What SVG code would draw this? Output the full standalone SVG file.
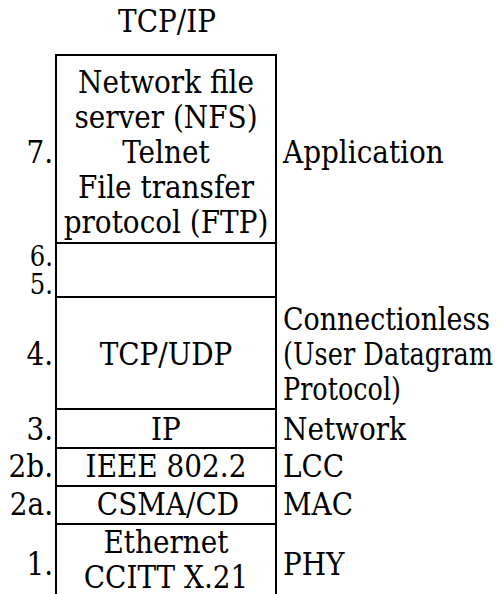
<svg xmlns="http://www.w3.org/2000/svg" width="503" height="594" viewBox="0 0 503 594">
<style>
text{font-family:"DejaVu Serif Condensed","DejaVu Serif","Liberation Serif",serif;font-stretch:condensed;font-size:31px;fill:#000}
.c{text-anchor:middle}
.n{text-anchor:end}
.s{font-size:27px}
line{stroke:#000;stroke-width:2}
</style>
<rect width="503" height="594" fill="#fff"/>
<text class="c" x="167" y="32">TCP/IP</text>
<g id="connectors">
<line x1="56" y1="55" x2="56" y2="594"/>
<line x1="276" y1="55" x2="276" y2="594"/>
<line x1="55" y1="55" x2="277" y2="55"/>
<line x1="56" y1="243" x2="276" y2="243"/>
<line x1="56" y1="297" x2="276" y2="297"/>
<line x1="56" y1="409" x2="276" y2="409"/>
<line x1="56" y1="448" x2="276" y2="448"/>
<line x1="56" y1="486" x2="276" y2="486"/>
<line x1="56" y1="524" x2="276" y2="524"/>
</g>
<g id="layer7">
<text class="n" x="53" y="163">7.</text>
<text class="c" x="166" y="93">Network file</text>
<text class="c" x="166" y="128">server (NFS)</text>
<text class="c" x="166" y="163">Telnet</text>
<text class="c" x="166" y="198">File transfer</text>
<text class="c" x="166" y="233">protocol (FTP)</text>
<text x="283" y="163">Application</text>
</g>
<g id="layer65">
<text class="n s" x="53" y="266">6.</text>
<text class="n s" x="53" y="294">5.</text>
</g>
<g id="layer4">
<text class="n" x="53" y="365">4.</text>
<text class="c" x="166" y="365">TCP/UDP</text>
<text x="283" y="330" textLength="207" lengthAdjust="spacingAndGlyphs">Connectionless</text>
<text x="283" y="365" textLength="210" lengthAdjust="spacingAndGlyphs">(User Datagram</text>
<text x="283" y="400" textLength="118" lengthAdjust="spacingAndGlyphs">Protocol)</text>
</g>
<g id="layer3">
<text class="n" x="53" y="440">3.</text>
<text class="c" x="166" y="440">IP</text>
<text x="283" y="440">Network</text>
</g>
<g id="layer2b">
<text class="n" x="53" y="477">2b.</text>
<text class="c" x="166" y="477">IEEE 802.2</text>
<text x="283" y="477">LCC</text>
</g>
<g id="layer2a">
<text class="n" x="53" y="515">2a.</text>
<text class="c" x="168" y="515">CSMA/CD</text>
<text x="283" y="515">MAC</text>
</g>
<g id="layer1">
<text class="n" x="53" y="575">1.</text>
<text class="c" x="166" y="553">Ethernet</text>
<text class="c" x="166" y="588">CCITT X.21</text>
<text x="283" y="575">PHY</text>
</g>
</svg>
